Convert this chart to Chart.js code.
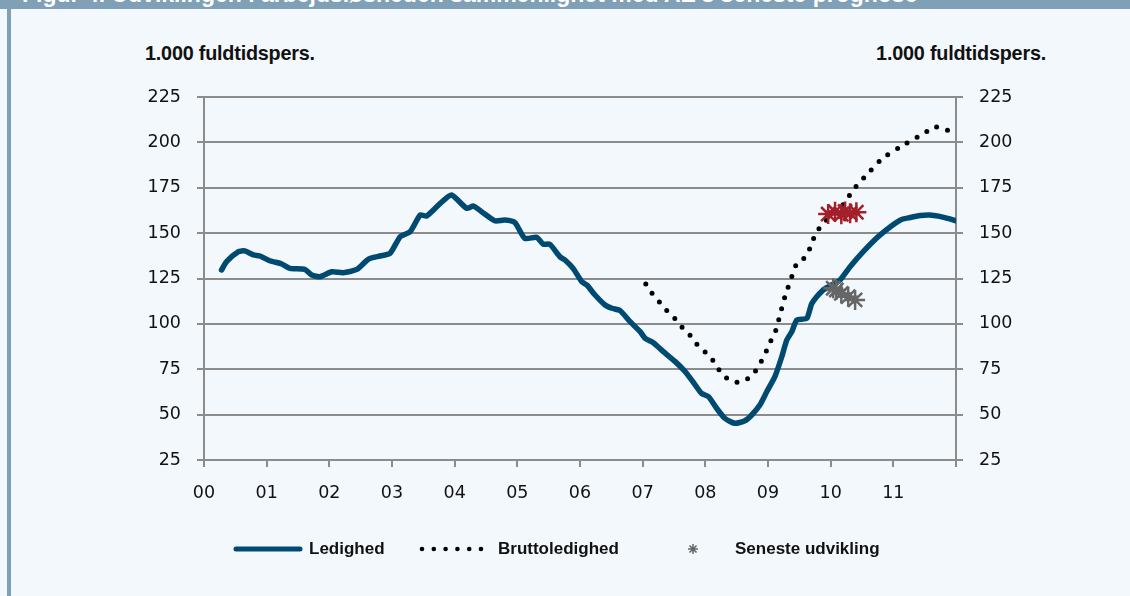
<!DOCTYPE html>
<html>
<head>
<meta charset="utf-8">
<script src="https://cdn.jsdelivr.net/npm/chart.js@4.4.1/dist/chart.umd.min.js"></script>
<style>
  html,body{margin:0;padding:0;background:#f3f8fc;width:1130px;height:596px;overflow:hidden;position:relative;}
  #bar{position:absolute;left:0;top:0;width:1130px;height:9px;background:#7fa0b6;overflow:hidden;}
  #bar span{position:absolute;left:22px;top:-17px;font:bold 23px "Liberation Sans",Arial,sans-serif;color:#fff;white-space:nowrap;line-height:23px;}
  #stripe{position:absolute;left:7px;top:9px;width:4px;height:587px;background:#7fa0b6;}
  .unit{position:absolute;top:42px;font:bold 19.8px "Liberation Sans",sans-serif;color:#111;white-space:nowrap;line-height:22px;letter-spacing:-0.2px;}
  #c{position:absolute;left:0;top:0;}
</style>
</head>
<body>
<div id="bar"><span>Figur 4. Udviklingen i arbejdsløsheden sammenlignet med AE's seneste prognose</span></div>
<div id="stripe"></div>
<div class="unit" style="left:145px">1.000 fuldtidspers.</div>
<div class="unit" style="right:84px">1.000 fuldtidspers.</div>
<canvas id="c" width="1130" height="596"></canvas>
<script>
// x values are years since 2000 (00 = 2000)
const xLabels = ['00','01','02','03','04','05','06','07','08','09','10','11',''];
const yTickStep = 25;

const ledighedX = [0.28,0.36,0.55,0.65,0.79,0.89,1.05,1.24,1.37,1.61,1.72,1.85,2.04,2.22,2.44,2.62,2.81,2.97,3.13,3.29,3.45,3.55,3.77,3.95,4.19,4.30,4.43,4.64,4.80,4.96,5.12,5.31,5.41,5.52,5.68,5.76,5.89,6.03,6.11,6.24,6.40,6.51,6.64,6.80,6.96,7.04,7.17,7.33,7.52,7.68,7.84,7.94,8.05,8.18,8.31,8.47,8.63,8.74,8.87,8.98,9.11,9.22,9.30,9.38,9.46,9.62,9.70,9.88,9.99,10.15,10.31,10.52,10.79,11.11,11.27,11.43,11.58,11.74,11.90,12.0];
const ledighedY = [129.7,134.3,139.8,140.2,138,137.4,134.8,133,130.6,130,126.9,126,128.7,128.2,130,135.6,137.4,138.9,148,150.8,160,159.4,166.4,171,163.7,164.9,161.8,156.8,157.2,155.9,147.1,147.7,144,143.8,137,135.2,130.6,123.2,121.4,115.9,110.4,108.6,107.3,101.2,95.7,92,89.6,84.7,79.2,73.6,66.3,61.7,59.9,53.5,48,45.2,46.6,49.8,55.3,62.6,70.9,81.9,91.1,95.7,102.1,103.1,111.3,118.7,120.9,124.2,131.5,139.8,149,157.2,158.6,159.7,160,159.2,157.8,156.7];

const bruttoX = [7.05,7.15,7.27,7.39,7.52,7.64,7.77,7.88,8.01,8.13,8.23,8.36,8.53,8.70,8.82,8.91,8.99,9.06,9.14,9.18,9.23,9.28,9.34,9.40,9.47,9.62,9.68,9.76,9.86,10.23,10.32,10.44,10.56,10.82,11.11,11.41,11.55,11.66,11.82,11.94];
const bruttoY = [122,116.8,111.9,107.1,102.7,97.7,93.2,88.2,84.1,79.5,74.2,69.6,67.8,70.3,75,80.5,86.2,91.8,97.7,103.6,110,116.1,122.1,128,133.7,137.4,143,149.3,154.6,166.8,171.9,177.2,181.5,190.9,197.5,203.5,206.3,208.5,207.4,205.2];

const senesteBruttoX = [9.96,10.07,10.17,10.23,10.31,10.41];
const senesteBruttoY = [160.5,161.8,160.4,161.9,160.9,161.5];
const senesteLedigX = [10.04,10.09,10.17,10.28,10.39];
const senesteLedigY = [119.6,118.7,116.8,115,113.2];

const legendNames = ['Ledighed','Bruttoledighed','Seneste udvikling'];

const zip = (xs, ys) => xs.map((x, i) => ({x, y: ys[i]}));

const BLUE = '#004a72', RED = '#a3202b', GREY = '#666666', GRID = '#8c8c8c';

const legendPlugin = {
  id: 'customLegend',
  afterDraw(chart) {
    const ctx = chart.ctx;
    const yc = 549;
    ctx.save();
    // solid line sample
    ctx.strokeStyle = BLUE; ctx.lineWidth = 5; ctx.lineCap = 'round';
    ctx.beginPath(); ctx.moveTo(236, yc); ctx.lineTo(300, yc); ctx.stroke();
    // dotted sample
    ctx.fillStyle = '#000';
    for (let i = 0; i < 6; i++) { ctx.beginPath(); ctx.arc(422 + i * 11.8, yc, 2.3, 0, Math.PI * 2); ctx.fill(); }
    // marker sample
    ctx.strokeStyle = GREY; ctx.fillStyle = GREY; ctx.lineWidth = 1.5; ctx.lineCap = 'butt';
    Chart.helpers.drawPoint(ctx, {pointStyle: 'star', radius: 5, borderWidth: 1.5}, 693, yc);
    // texts
    ctx.fillStyle = '#111';
    ctx.font = 'bold 17px "Liberation Sans", sans-serif';
    ctx.textBaseline = 'middle';
    ctx.fillText(legendNames[0], 309, yc);
    ctx.fillText(legendNames[1], 498, yc);
    ctx.fillText(legendNames[2], 735, yc);
    ctx.restore();
  }
};

const tickFont = {family: '"DejaVu Sans", sans-serif', size: 17.5};

new Chart(document.getElementById('c'), {
  data: {
    datasets: [
      {type: 'scatter', label: legendNames[2], data: zip(senesteBruttoX, senesteBruttoY), pointStyle: 'star', radius: 10, borderColor: RED, backgroundColor: RED, borderWidth: 2.5, order: 0},
      {type: 'scatter', label: legendNames[2], data: zip(senesteLedigX, senesteLedigY), pointStyle: 'star', radius: 10, borderColor: GREY, backgroundColor: GREY, borderWidth: 2.5, order: 0},
      {type: 'line', label: legendNames[0], data: zip(ledighedX, ledighedY), borderColor: BLUE, borderWidth: 5.5, pointRadius: 0, tension: 0.2, borderJoinStyle: 'round', borderCapStyle: 'round', order: 2},
      {type: 'line', label: legendNames[1], data: zip(bruttoX, bruttoY), borderColor: '#000', borderWidth: 5, borderDash: [0, 11.3], borderCapStyle: 'round', pointRadius: 0, tension: 0.3, order: 1}
    ]
  },
  options: {
    responsive: false,
    animation: false,
    devicePixelRatio: 1,
    layout: {padding: {top: 97, left: 0, right: 0, bottom: 0}},
    plugins: {legend: {display: false}, tooltip: {enabled: false}},
    scales: {
      x: {
        type: 'linear', min: 0, max: 12,
        afterFit: s => { s.height = 136; },
        ticks: {stepSize: 1, autoSkip: false, maxRotation: 0, padding: 16, color: '#111', font: tickFont,
          callback: v => xLabels[v] ?? ''},
        grid: {drawOnChartArea: false, drawTicks: true, tickLength: 7, color: GRID, lineWidth: 2},
        border: {display: true, color: GRID, width: 2}
      },
      y: {
        position: 'left', min: 25, max: 225,
        afterFit: s => { s.width = 204; },
        ticks: {stepSize: yTickStep, padding: 16, color: '#111', font: tickFont},
        grid: {color: GRID, lineWidth: 2, tickLength: 7, drawTicks: true},
        border: {display: true, color: GRID, width: 2}
      },
      y2: {
        position: 'right', min: 25, max: 225,
        afterFit: s => { s.width = 174; },
        ticks: {stepSize: yTickStep, padding: 16, color: '#111', font: tickFont},
        grid: {drawOnChartArea: false, color: GRID, lineWidth: 2, tickLength: 7, drawTicks: true},
        border: {display: true, color: GRID, width: 2}
      }
    }
  },
  plugins: [legendPlugin]
});
</script>
</body>
</html>
